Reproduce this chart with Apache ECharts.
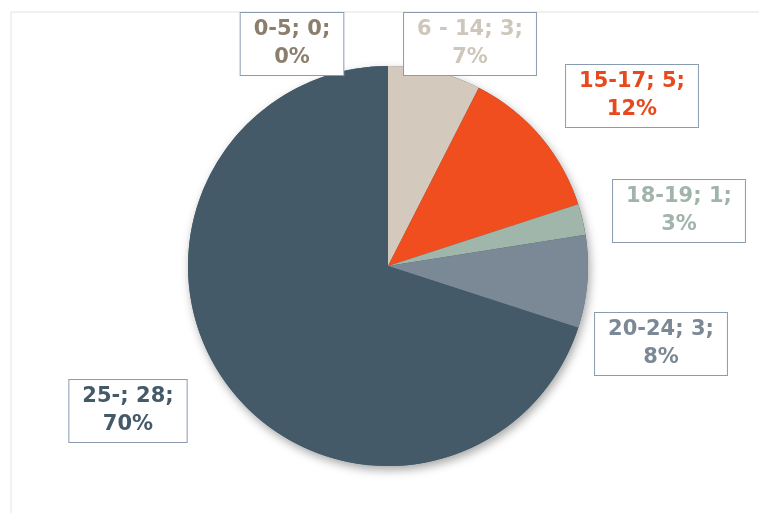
<!DOCTYPE html>
<html>
<head>
<meta charset="utf-8">
<script src="https://cdn.jsdelivr.net/npm/echarts@6/dist/echarts.min.js"></script>
<style>
html, body { margin: 0; padding: 0; background: #fff; }
#chart { width: 759px; height: 513px; }
</style>
</head>
<body>
<div id="chart"></div>
<script>
// age groups and counts
var groups = ['0-5', '6 - 14', '15-17', '18-19', '20-24', '25-'];
var counts = [0, 3, 5, 1, 3, 28];
var percents = [0, 7, 12, 3, 8, 70];
var colors = ['#8b7e6c', '#d3c9bd', '#f04e1e', '#a0b6ab', '#7b8896', '#445a68'];
var textColors = ['#8b7e6c', '#cfc6bb', '#e8491c', '#a0b4aa', '#7b8896', '#445a68'];

// where each label box sits (centre)
var labelPos = [[292, 44], [470, 44], [632, 96], [679, 211], [661, 344], [128, 411]];

var chart = echarts.init(document.getElementById('chart'));
var data = [];
for (var i = 0; i < groups.length; i++) {
	data.push({
		name: groups[i],
		value: counts[i],
		itemStyle: { color: colors[i] },
		label: { color: textColors[i] }
	});
}
var total = 0;
counts.forEach(function (c) { total += c; });

var option = {
	backgroundColor: '#fff',
	animation: false,
	graphic: [{
		type: 'rect',
		shape: { x: 11, y: 12, width: 780, height: 540 },
		style: { fill: 'none', stroke: '#e2e2e2', lineWidth: 1 },
		z: -10
	}],
	series: [{
		// shadow under the pie
		type: 'pie',
		silent: true,
		left: 0, top: 0, width: 1400, height: 513,
		center: [388, 266],
		radius: 200,
		z: 1,
		label: { show: false },
		labelLine: { show: false },
		itemStyle: {
			color: '#445a68',
			shadowBlur: 10,
			shadowColor: 'rgba(0,0,0,0.35)',
			shadowOffsetX: 2,
			shadowOffsetY: 4
		},
		data: [{ name: 'all', value: total }]
	}, {
		type: 'pie',
		left: 0, top: 0, width: 1400, height: 513,
		center: [388, 266],
		radius: 200,
		startAngle: 90,
		clockwise: true,
		z: 2,
		itemStyle: { borderWidth: 0 },
		label: {
			show: true,
			position: 'outside',
			overflow: 'none',
			fontFamily: 'DejaVu Sans',
			fontWeight: 'bold',
			fontSize: 21,
			lineHeight: 28,
			align: 'center',
			backgroundColor: '#fff',
			borderColor: '#8a9bb0',
			borderWidth: 1,
			padding: [3, 13, 3, 13],
			formatter: function (p) {
				return p.name + '; ' + p.value + ';\n' + percents[p.dataIndex] + '%';
			}
		},
		labelLine: { show: false },
		labelLayout: function (p) {
			var pos = labelPos[p.dataIndex];
			return { x: pos[0], y: pos[1], align: 'center', verticalAlign: 'middle' };
		},
		emphasis: { disabled: true },
		data: data
	}]
};
chart.setOption(option);
</script>
</body>
</html>
